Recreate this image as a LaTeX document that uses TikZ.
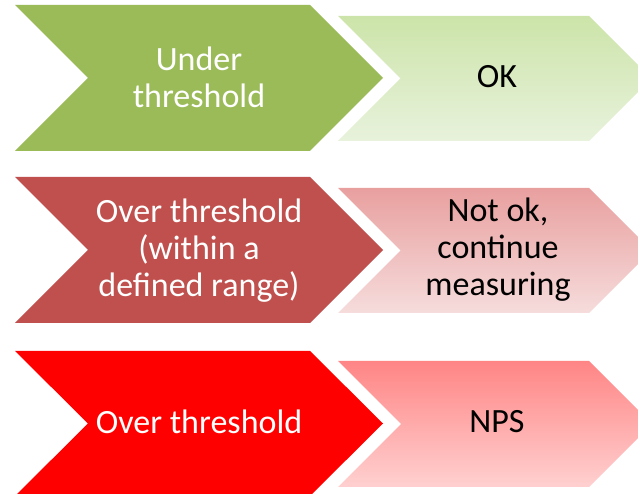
\documentclass[tikz,border=0pt]{standalone}
\usepackage{fontspec}
\setmainfont{Carlito}
\definecolor{gDark}{HTML}{9BBB59}
\definecolor{gTop}{HTML}{CCE4A9}
\definecolor{gBot}{HTML}{E8F2DC}
\definecolor{rDark}{HTML}{C0504D}
\definecolor{rTop}{HTML}{E8A09F}
\definecolor{rBot}{HTML}{F6DCDC}
\definecolor{bDark}{HTML}{FF0000}
\definecolor{bTop}{HTML}{FF8585}
\definecolor{bBot}{HTML}{FFD0D0}
\begin{document}
\begin{tikzpicture}[x=1pt,y=-1pt,
  bigchev/.style={draw=none},
  smallchev/.style={draw=none,shading=axis,shading angle=25},
  lbl/.style={align=center,font=\fontsize{34}{37}\selectfont,inner sep=0pt}]
\useasboundingbox (0,0) rectangle (638,494);
% row 1
\fill[bigchev,gDark] (15,5) -- (310,5) -- (383,78) -- (310,151) -- (15,151) -- (88,78) -- cycle;
\path[smallchev,top color=gTop,bottom color=gBot] (338,16) -- (589,16) -- (651.5,78.5) -- (589,141) -- (338,141) -- (400.5,78.5) -- cycle;
\node[lbl,text=white] (under) at (199,77) {Under\\threshold};
\node[lbl,text=black] (ok) at (497,77) {OK};
% row 2
\fill[bigchev,rDark] (15,177) -- (310,177) -- (383,250) -- (310,323) -- (15,323) -- (88,250) -- cycle;
\path[smallchev,top color=rTop,bottom color=rBot] (338,188) -- (589,188) -- (651.5,250.5) -- (589,313) -- (338,313) -- (400.5,250.5) -- cycle;
\node[lbl,text=white] (overr) at (199,251) {Over threshold\\(within a\\defined range)};
\node[lbl,text=black] (notok) at (498,250) {Not ok,\\continue\\measuring};
% row 3
\fill[bigchev,bDark] (15,351) -- (310,351) -- (383,423.5) -- (310,496) -- (15,496) -- (88,423.5) -- cycle;
\path[smallchev,top color=bTop,bottom color=bBot] (338,361) -- (589,361) -- (652,424) -- (589,487) -- (338,487) -- (401,424) -- cycle;
\node[lbl,text=white] (over) at (199,422) {Over threshold};
\node[lbl,text=black] (nps) at (497,422) {NPS};
\end{tikzpicture}
\end{document}
